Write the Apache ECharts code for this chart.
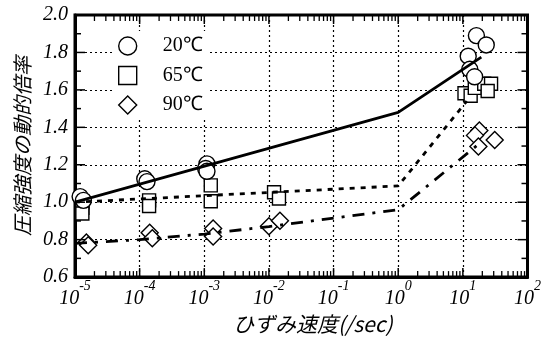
<!DOCTYPE html>
<html>
<head>
<meta charset="utf-8">
<script src="https://cdn.jsdelivr.net/npm/echarts@6/dist/echarts.min.js"></script>
<style>
  html, body { margin: 0; padding: 0; background: #fff; }
  #chart { width: 544px; height: 340px; }
</style>
</head>
<body>
<div id="chart"></div>
<script>
// Dynamic increase factor of compressive strength vs. strain rate (/sec)

// 20℃ test results
const rate20 = [1.2e-5, 1.35e-5, 1.2e-4, 1.3e-4, 1.1e-3, 1.05e-3, 1.1e-3, 12.1, 12.8, 15.2, 16.2, 23];
const dif20  = [1.03, 1.01, 1.125, 1.11, 1.205, 1.18, 1.165, 1.78, 1.71, 1.67, 1.89, 1.84];

// 65℃ test results
const rate65 = [1.3e-5, 1.3e-5, 1.3e-5, 1.4e-4, 1.4e-4, 1.26e-3, 1.26e-3, 0.012, 0.0143, 10.6, 13.2, 15.3, 21.4, 27.3, 24.2];
const dif65  = [1.00, 0.97, 0.94, 1.01, 0.98, 1.09, 1.005, 1.053, 1.02, 1.582, 1.569, 1.611, 1.633, 1.633, 1.594];

// 90℃ test results
const rate90 = [1.5e-5, 1.6e-5, 1.43e-4, 1.57e-4, 1.37e-3, 1.37e-3, 0.01, 0.0148, 18, 15.4, 31.1, 17.4];
const dif90  = [0.785, 0.77, 0.837, 0.808, 0.859, 0.817, 0.872, 0.901, 1.383, 1.357, 1.332, 1.298];

// trend lines
const fitRate20 = [1e-5, 1, 19.3];
const fitDif20  = [1.0, 1.48, 1.775];
const fitRate65 = [1e-5, 1, 11.5];
const fitDif65  = [1.0, 1.087, 1.54];
const fitRate90 = [1e-5, 1e-4, 1e-3, 1e-2, 1e-1, 1, 17.1];
const fitDif90  = [0.78, 0.80, 0.83, 0.87, 0.915, 0.96, 1.307];

const seriesNames = ['20℃', '65℃', '90℃'];
const yTicks = { min: 0.6, max: 2.0, step: 0.2 };
const xRange = { min: 1e-5, max: 1e2 };

// tick positions on the frame: decades / 2..9 within each decade, 0.2 / 0.1 steps
const majorX = [];
const minorX = [];
for (let e = -5; e < 2; e++) {
  for (let m = 2; m <= 9; m++) minorX.push(m * Math.pow(10, e));
}
for (let e = -4; e < 2; e++) majorX.push(Math.pow(10, e));
const majorY = [0.8, 1.0, 1.2, 1.4, 1.6, 1.8];
const minorY = [0.7, 0.9, 1.1, 1.3, 1.5, 1.7, 1.9];

const zip = (xs, ys) => xs.map((x, i) => [x, ys[i]]);

const serif = '"Liberation Serif", "Times New Roman", serif';
const dotted = { type: [2, 3], color: '#000', width: 1.2 };

const markerStyle = { color: '#fff', borderColor: '#000', borderWidth: 1.4, opacity: 1 };

const chart = echarts.init(document.getElementById('chart'), null, { renderer: 'canvas' });

// inward tick marks on bottom + top edges (x ticks) or left + right edges (y ticks)
function tickSeries(name, values, len, width, vertical) {
  return {
    name: name,
    type: 'custom',
    silent: true,
    clip: false,
    z: 5,
    data: vertical ? values.map(v => [v, yTicks.min]) : values.map(v => [xRange.min, v]),
    renderItem: (params, api) => {
      const st = { stroke: '#000', lineWidth: width, fill: null };
      if (vertical) {
        const v = api.value(0);
        const b = api.coord([v, yTicks.min]);
        const t = api.coord([v, yTicks.max]);
        return {
          type: 'group',
          children: [
            { type: 'line', shape: { x1: b[0], y1: b[1], x2: b[0], y2: b[1] - len }, style: st },
            { type: 'line', shape: { x1: t[0], y1: t[1], x2: t[0], y2: t[1] + len }, style: st }
          ]
        };
      }
      const v = api.value(1);
      const l = api.coord([xRange.min, v]);
      const r = api.coord([xRange.max, v]);
      return {
        type: 'group',
        children: [
          { type: 'line', shape: { x1: l[0], y1: l[1], x2: l[0] + len, y2: l[1] }, style: st },
          { type: 'line', shape: { x1: r[0], y1: r[1], x2: r[0] - len, y2: r[1] }, style: st }
        ]
      };
    }
  };
}

chart.setOption({
  backgroundColor: '#fff',
  animation: false,
  grid: {
    left: 75, right: 10, top: 15, bottom: 49,
    show: true, borderColor: '#000', borderWidth: 3, backgroundColor: 'transparent'
  },
  legend: {
    orient: 'vertical',
    left: 113,
    top: 31,
    padding: 5,
    backgroundColor: '#fff',
    itemWidth: 18,
    itemHeight: 18,
    itemGap: 9.5,
    data: seriesNames,
    itemStyle: { color: '#fff', borderColor: '#000', borderWidth: 1.4, opacity: 1 },
    textStyle: { fontFamily: serif, fontSize: 20, color: '#000', padding: [0, 0, 0, 21] }
  },
  xAxis: {
    type: 'log',
    logBase: 10,
    min: xRange.min,
    max: xRange.max,
    splitNumber: 7,
    position: 'bottom',
    name: 'ひずみ速度(/sec)',
    nameLocation: 'middle',
    nameGap: 26,
    nameTextStyle: {
      fontFamily: 'Noto Sans CJK JP', fontSize: 21, fontStyle: 'italic', color: '#000',
      padding: [0, 0, 0, 23]
    },
    axisLine: { show: true, onZero: false, lineStyle: { color: '#000', width: 3 } },
    axisTick: { show: false },
    splitLine: { show: true, lineStyle: dotted },
    axisLabel: {
      margin: 2,
      showMinLabel: true,
      showMaxLabel: true,
      hideOverlap: false,
      formatter: v => '{b|10}{s|' + Math.round(Math.log10(v)) + '}',
      rich: {
        b: { fontFamily: serif, fontStyle: 'italic', fontSize: 20, color: '#000', lineHeight: 30, verticalAlign: 'bottom' },
        s: { fontFamily: serif, fontStyle: 'italic', fontSize: 14, color: '#000', lineHeight: 12, verticalAlign: 'top' }
      }
    }
  },
  yAxis: {
    type: 'value',
    min: yTicks.min,
    max: yTicks.max,
    interval: yTicks.step,
    position: 'left',
    name: '圧縮強度の動的倍率',
    nameLocation: 'middle',
    nameRotate: 90,
    nameGap: 43,
    nameTextStyle: { fontFamily: 'Noto Sans CJK JP', fontSize: 20, fontStyle: 'italic', color: '#000' },
    axisLine: { show: true, onZero: false, lineStyle: { color: '#000', width: 3 } },
    axisTick: { show: false },
    splitLine: { show: true, lineStyle: dotted },
    axisLabel: {
      margin: 7,
      fontFamily: serif, fontStyle: 'italic', fontSize: 20, color: '#000',
      formatter: v => v.toFixed(1)
    }
  },
  series: [
    tickSeries('x major ticks', majorX, 9, 1.5, true),
    tickSeries('x minor ticks', minorX, 6, 1.3, true),
    tickSeries('y major ticks', majorY, 10, 1.5, false),
    tickSeries('y minor ticks', minorY, 6, 1.5, false),
    {
      name: 'fit20', type: 'line', data: zip(fitRate20, fitDif20), symbol: 'none', silent: true,
      lineStyle: { color: '#000', width: 2.8, type: 'solid' }
    },
    {
      name: 'fit65', type: 'line', data: zip(fitRate65, fitDif65), symbol: 'none', silent: true,
      lineStyle: { color: '#000', width: 2.8, type: [5, 6] }
    },
    {
      name: 'fit90', type: 'line', data: zip(fitRate90, fitDif90), symbol: 'none', silent: true,
      lineStyle: { color: '#000', width: 2.8, type: [12, 8, 3, 8] }
    },
    {
      name: seriesNames[2], type: 'scatter', data: zip(rate90, dif90),
      symbol: 'diamond', symbolSize: 17, itemStyle: markerStyle
    },
    {
      name: seriesNames[1], type: 'scatter', data: zip(rate65, dif65),
      symbol: 'rect', symbolSize: 13, itemStyle: markerStyle
    },
    {
      name: seriesNames[0], type: 'scatter', data: zip(rate20, dif20),
      symbol: 'circle', symbolSize: 16, itemStyle: markerStyle
    }
  ]
});
</script>
</body>
</html>
